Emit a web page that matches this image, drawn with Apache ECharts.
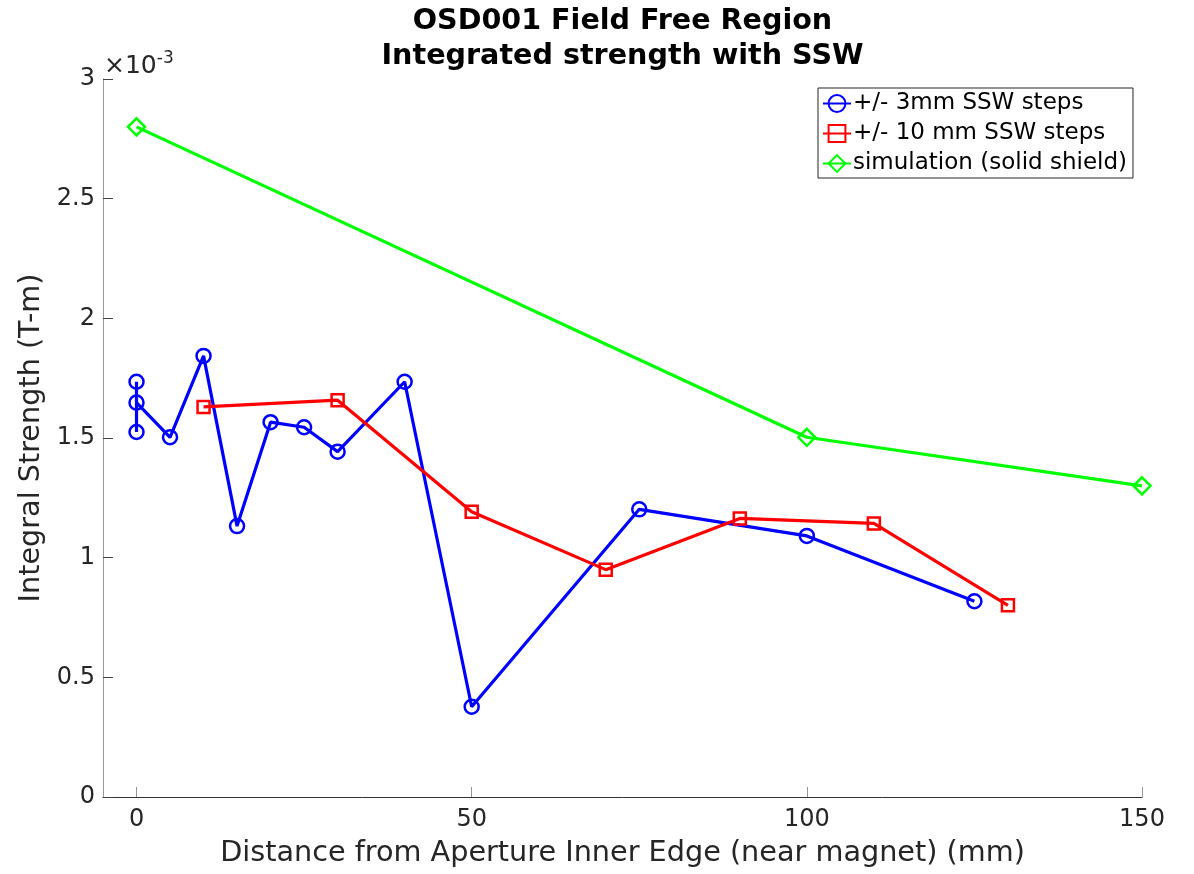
<!DOCTYPE html>
<html>
<head>
<meta charset="utf-8">
<script src="https://cdn.jsdelivr.net/npm/echarts@6/dist/echarts.min.js"></script>
<style>
html,body{margin:0;padding:0;background:#fff;}
#chart{width:1194px;height:874px;}
</style>
</head>
<body>
<div id="chart"></div>
<script>
// values in units of 1e-3 T-m (axis shows ×10^-3)
const blueX = [0, 0, 0, 5, 10, 15, 20, 25, 30, 40, 50, 75, 100, 125];
const blueY = [1.735, 1.525, 1.648, 1.503, 1.843, 1.132, 1.566, 1.545, 1.443, 1.735, 0.377, 1.202, 1.091, 0.818];
const redX = [10, 30, 50, 70, 90, 110, 130];
const redY = [1.630, 1.658, 1.192, 0.950, 1.164, 1.143, 0.801];
const greenX = [0, 100, 150];
const greenY = [2.800, 1.503, 1.300];
const xTicks = [0, 50, 100, 150];
const yTicks = [0, 0.5, 1, 1.5, 2, 2.5, 3];
const seriesNames = ['+/- 3mm SSW steps', '+/- 10 mm SSW steps', 'simulation (solid shield)'];
const titleLines = ['OSD001 Field Free Region', 'Integrated strength with SSW'];
const xName = 'Distance from Aperture Inner Edge (near magnet) (mm)';
const yName = 'Integral Strength (T-m)';

const pair = (xs, ys) => xs.map((x, i) => [x, ys[i]]);
const FONT = 'DejaVu Sans';
const TXT = '#262626';
const GRID = {left: 103, right: 52, top: 79, bottom: 77};

const chart = echarts.init(document.getElementById('chart'), null, {renderer: 'canvas'});
chart.setOption({
  backgroundColor: '#fff',
  animation: false,
  grid: Object.assign({containLabel: false}, GRID),
  legend: {
    orient: 'vertical',
    left: 818,
    top: 88,
    padding: [4, 6, 3, 4],
    itemGap: 7,
    itemWidth: 28,
    itemHeight: 21,
    borderColor: TXT,
    borderWidth: 1,
    backgroundColor: '#fff',
    textStyle: {fontFamily: FONT, fontSize: 23, lineHeight: 23, color: '#000', padding: [0, 0, 0, -3]},
    data: seriesNames
  },
  xAxis: {
    type: 'value',
    min: -5,
    max: 150,
    name: xName,
    nameLocation: 'middle',
    nameGap: 42,
    nameTextStyle: {fontFamily: FONT, fontSize: 28.7, color: TXT},
    axisLine: {show: true, onZero: false, lineStyle: {color: '#333', width: 1}},
    axisTick: {show: true, inside: true, length: 10, customValues: xTicks, lineStyle: {color: '#999'}},
    axisLabel: {customValues: xTicks, fontFamily: FONT, fontSize: 24, color: TXT, margin: 11},
    splitLine: {show: false}
  },
  yAxis: {
    type: 'value',
    min: 0,
    max: 3,
    interval: 0.5,
    name: yName,
    nameLocation: 'middle',
    nameGap: 54,
    nameTextStyle: {fontFamily: FONT, fontSize: 28.7, color: TXT},
    axisLine: {show: true, onZero: false, lineStyle: {color: '#999', width: 1}},
    axisTick: {show: true, inside: true, length: 10, lineStyle: {color: '#444'}},
    axisLabel: {fontFamily: FONT, fontSize: 24, color: TXT, margin: 8,
      formatter: v => String(v)},
    splitLine: {show: false}
  },
  graphic: [{
    type: 'text',
    x: (GRID.left + (1194 - GRID.right)) / 2,
    y: 4,
    style: {
      text: titleLines.join('\n'),
      align: 'center',
      verticalAlign: 'top',
      font: 'bold 28.6px "DejaVu Sans"',
      lineHeight: 35,
      fill: '#000'
    }
  }, {
    type: 'text',
    left: 104,
    top: 50,
    style: {
      text: '{a|×10}{b|-3}',
      rich: {
        a: {fontFamily: FONT, fontSize: 25, fill: TXT, verticalAlign: 'bottom'},
        b: {fontFamily: FONT, fontSize: 17, fill: TXT, verticalAlign: 'top', padding: [0, 0, 12, 0]}
      }
    }
  }],
  series: [
    {
      name: seriesNames[0], type: 'line', data: pair(blueX, blueY),
      symbol: 'circle', symbolSize: 14, color: '#0000ff',
      lineStyle: {color: '#0000ff', width: 3.2},
      itemStyle: {color: 'rgba(255,255,255,0)', borderColor: '#0000ff', borderWidth: 2.5},
      z: 2
    },
    {
      name: seriesNames[1], type: 'line', data: pair(redX, redY),
      symbol: 'rect', symbolSize: 12, color: '#ff0000',
      lineStyle: {color: '#ff0000', width: 3.2},
      itemStyle: {color: 'rgba(255,255,255,0)', borderColor: '#ff0000', borderWidth: 2.5},
      z: 3
    },
    {
      name: seriesNames[2], type: 'line', data: pair(greenX, greenY),
      symbol: 'diamond', symbolSize: 17, color: '#00ff00',
      lineStyle: {color: '#00ff00', width: 3.2},
      itemStyle: {color: 'rgba(255,255,255,0)', borderColor: '#00ff00', borderWidth: 2.5},
      z: 4
    }
  ]
});
</script>
</body>
</html>
